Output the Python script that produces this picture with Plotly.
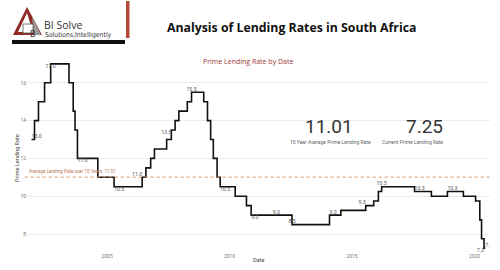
import plotly.graph_objects as go

# ---- data ----
dates = ["2001-12-01", "2002-01-15", "2002-03-15", "2002-06-14", "2002-09-13",
         "2003-06-13", "2003-08-15", "2003-09-11", "2003-10-17", "2004-08-16",
         "2005-04-15", "2006-06-08", "2006-08-03", "2006-10-13", "2006-12-08",
         "2007-06-08", "2007-08-17", "2007-10-12", "2007-12-07", "2008-04-11",
         "2008-06-13", "2008-12-12", "2009-02-06", "2009-03-25", "2009-05-04",
         "2009-06-29", "2009-08-14", "2010-03-26", "2010-09-10", "2010-11-19",
         "2012-07-20", "2014-01-30", "2014-07-18", "2015-07-24", "2015-11-20",
         "2016-01-29", "2016-03-18", "2017-07-21", "2018-03-29", "2018-11-23",
         "2019-07-19", "2020-01-17", "2020-03-20", "2020-04-15", "2020-05-22",
         "2020-06-10"]
rates = [13.0, 14.0, 15.0, 16.0, 17.0,
         16.0, 14.5, 13.5, 12.0, 11.0,
         10.5, 11.0, 11.5, 12.0, 12.5,
         13.0, 13.5, 14.0, 14.5, 15.0,
         15.5, 15.0, 14.0, 13.0, 12.0,
         11.0, 10.5, 10.0, 9.5, 9.0,
         8.5, 9.0, 9.25, 9.5, 9.75,
         10.25, 10.5, 10.25, 10.0, 10.25,
         10.0, 9.75, 8.75, 7.75, 7.25,
         7.25]

label_dates = ["2001-12-01", "2002-09-13", "2003-10-17", "2005-04-15", "2006-06-08",
               "2007-08-17", "2008-06-13", "2009-08-14", "2010-11-19", "2011-12-01",
               "2012-07-20", "2014-01-30", "2015-07-24", "2016-03-18", "2017-07-21",
               "2018-11-23", "2020-05-22", "2020-06-10"]
label_values = [13.0, 17.0, 12.0, 10.5, 11.0,
                13.5, 15.5, 10.5, 9.0, 9.0,
                8.5, 9.0, 9.5, 10.5, 10.25,
                10.25, 7.25, 7.25]
label_texts = ["13.0", "17.0", "11.0", "10.5", "11.0",
               "13.5", "15.5", "10.5", "9.0", "9.0",
               "8.5", "9.0", "9.3", "10.5", "10.3",
               "10.3", "7.3", "7.3"]
label_pos = ["top right", "bottom center", "bottom right", "bottom right", "top left",
             "bottom left", "top center", "bottom right", "bottom right", "top center",
             "top center", "top right", "top left", "top center", "top right",
             "top right", "bottom left", "top right"]

y_ticks = [8, 10, 12, 14, 16]
x_tick_dates = ["2005-01-01", "2010-01-01", "2015-01-01", "2020-01-01"]
x_tick_text = ["2005", "2010", "2015", "2020"]

avg_rate = 11.01
current_rate = 7.25

W, H = 500, 270
def px(x):
    return x / W
def py(y):
    return 1 - y / H

fig = go.Figure()
fig.add_trace(go.Scatter(x=dates, y=rates, mode="lines",
                         line=dict(color="#111111", width=1.6, shape="hv"),
                         hoverinfo="skip", showlegend=False))
fig.add_trace(go.Scatter(x=label_dates, y=label_values, mode="text",
                         text=label_texts, textposition=label_pos,
                         textfont=dict(size=5.2, color="#555555", family="Roboto"),
                         hoverinfo="skip", showlegend=False))

shapes = []
# average line
shapes.append(dict(type="line", xref="x domain", yref="y", x0=-0.005, x1=1.0,
                   y0=avg_rate, y1=avg_rate,
                   line=dict(color="#d9956a", width=1, dash="dot")))
# logo triangle
shapes.append(dict(type="path", xref="paper", yref="paper",
                   path=f"M {px(27)} {py(7)} L {px(13)} {py(35)} L {px(42)} {py(35)} Z",
                   fillcolor="#8e2b22", line=dict(width=0)))
shapes.append(dict(type="path", xref="paper", yref="paper",
                   path=f"M {px(32)} {py(16)} L {px(41)} {py(35)} L {px(34)} {py(35)} Z",
                   fillcolor="#9a9a9a", line=dict(width=0)))
shapes.append(dict(type="path", xref="paper", yref="paper",
                   path=f"M {px(27)} {py(13)} L {px(18)} {py(32)} L {px(33)} {py(32)} Z",
                   fillcolor="white", line=dict(width=0)))
shapes.append(dict(type="rect", xref="paper", yref="paper",
                   x0=px(23), x1=px(33), y0=py(33), y1=py(24),
                   fillcolor="white", line=dict(color="#555555", width=0.8)))
# black bar under logo
shapes.append(dict(type="rect", xref="paper", yref="paper",
                   x0=px(12), x1=px(125), y0=py(44), y1=py(40),
                   fillcolor="#111111", line=dict(width=0)))
# red vertical bar
shapes.append(dict(type="rect", xref="paper", yref="paper",
                   x0=px(126), x1=px(129.5), y0=py(38), y1=py(1),
                   fillcolor="#b34a35", line=dict(width=0)))

ann = []
ann.append(dict(text="B", x=px(28), y=py(28.5), xref="paper", yref="paper",
                showarrow=False, font=dict(size=8, color="#333333", family="DejaVu Sans")))
ann.append(dict(text="BI Solve", x=px(42), y=py(16), xref="paper", yref="paper",
                xanchor="left", showarrow=False,
                font=dict(size=10.5, color="#333333", family="Open Sans")))
ann.append(dict(text="Solutions,Intelligently", x=px(43), y=py(29), xref="paper", yref="paper",
                xanchor="left", showarrow=False,
                font=dict(size=6.8, color="#333333", family="DejaVu Sans Condensed")))
ann.append(dict(text="<b>Analysis of Lending Rates in South Africa</b>", x=px(291), y=py(17),
                xref="paper", yref="paper", showarrow=False,
                font=dict(size=12.3, color="#111111", family="Open Sans", weight=800)))
ann.append(dict(text="Prime Lending Rate by Date", x=px(248), y=py(55),
                xref="paper", yref="paper", showarrow=False,
                font=dict(size=7, color="#9b3b33", family="Open Sans")))
ann.append(dict(text=f"{avg_rate:.2f}", x=px(329), y=py(127), xref="paper", yref="paper",
                showarrow=False, font=dict(size=19, color="#333333", family="Roboto")))
ann.append(dict(text="10 Year Average Prime Lending Rate", x=px(330), y=py(142),
                xref="paper", yref="paper", showarrow=False,
                font=dict(size=5, color="#666666", family="Roboto")))
ann.append(dict(text=f"{current_rate:.2f}", x=px(445), y=py(127), xref="paper", yref="paper",
                showarrow=False, font=dict(size=19, color="#333333", family="Roboto")))
ann.append(dict(text="Current Prime Lending Rate", x=px(445), y=py(142),
                xref="paper", yref="paper", showarrow=False,
                font=dict(size=5, color="#666666", family="Roboto")))
ann.append(dict(text=f"Average Lending Rate over 10 Years: {avg_rate:.2f}", x=px(27), y=avg_rate,
                xref="paper", yref="y", xanchor="left", yanchor="bottom", yshift=1,
                showarrow=False, font=dict(size=4.6, color="#b87a55", family="Roboto")))
ann.append(dict(text="Prime Lending Rate", x=px(12), y=py(158), xref="paper", yref="paper",
                textangle=-90, showarrow=False,
                font=dict(size=5.5, color="#444444", family="Roboto")))
ann.append(dict(text="Date", x=px(258), y=py(265), xref="paper", yref="paper",
                showarrow=False, font=dict(size=5.5, color="#444444", family="Roboto")))

fig.update_layout(
    width=W, height=H,
    margin=dict(l=0, r=0, t=0, b=0),
    paper_bgcolor="white", plot_bgcolor="white",
    shapes=shapes, annotations=ann,
    xaxis=dict(domain=[px(27), px(490)], type="date",
               range=["2001-09-25", "2020-08-19"],
               tickvals=x_tick_dates, ticktext=x_tick_text,
               tickfont=dict(size=5, color="#777777", family="Roboto"),
               showgrid=False, zeroline=False, showline=False, ticks=""),
    yaxis=dict(domain=[py(252), py(58)], range=[7.05, 17.31],
               tickvals=y_ticks, ticktext=[str(v) for v in y_ticks],
               tickfont=dict(size=5, color="#777777", family="Roboto"),
               showgrid=True, gridcolor="#ececec", gridwidth=1,
               zeroline=False, showline=False, ticks=""),
)

fig.write_html("out.html")
